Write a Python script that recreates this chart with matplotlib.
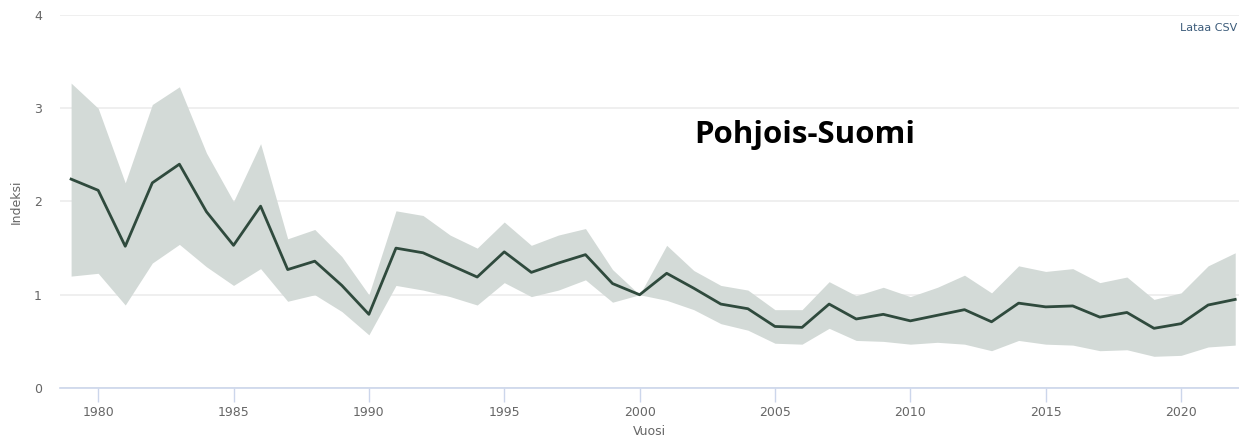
import matplotlib.pyplot as plt

years = list(range(1979, 2023))
index = [2.24, 2.12, 1.52, 2.20, 2.40, 1.89, 1.53, 1.95, 1.27, 1.36,
         1.10, 0.79, 1.50, 1.45, 1.32, 1.19, 1.46, 1.24, 1.34, 1.43,
         1.12, 1.00, 1.23, 1.07, 0.90, 0.85, 0.66, 0.65, 0.90, 0.74,
         0.79, 0.72, 0.78, 0.84, 0.71, 0.91, 0.87, 0.88, 0.76, 0.81,
         0.64, 0.69, 0.89, 0.95]
upper = [3.27, 3.00, 2.20, 3.04, 3.23, 2.52, 2.00, 2.62, 1.60, 1.70,
         1.41, 1.00, 1.90, 1.85, 1.64, 1.50, 1.78, 1.53, 1.64, 1.71,
         1.27, 1.00, 1.53, 1.26, 1.10, 1.05, 0.84, 0.84, 1.14, 0.99,
         1.08, 0.98, 1.08, 1.21, 1.02, 1.31, 1.25, 1.28, 1.13, 1.19,
         0.95, 1.02, 1.31, 1.45]
lower = [1.20, 1.23, 0.89, 1.34, 1.54, 1.30, 1.10, 1.28, 0.93, 1.00,
         0.82, 0.57, 1.10, 1.05, 0.98, 0.89, 1.13, 0.98, 1.05, 1.16,
         0.92, 1.00, 0.94, 0.84, 0.69, 0.62, 0.48, 0.47, 0.64, 0.51,
         0.50, 0.47, 0.49, 0.47, 0.40, 0.51, 0.47, 0.46, 0.40, 0.41,
         0.34, 0.35, 0.44, 0.46]
yticks = [0, 1, 2, 3, 4]
xticks = [1980, 1985, 1990, 1995, 2000, 2005, 2010, 2015, 2020]

fig = plt.figure(figsize=(12.39, 4.38), dpi=100)
ax = fig.add_axes([60/1239, 1 - 388/438, 1179/1239, 373/438])

# luottamusväli + indeksi
ax.fill_between(years, lower, upper, color='#d3dad7', linewidth=0, zorder=2)
ax.plot(years, index, color='#2f4a3d', linewidth=2, zorder=3)

ax.set_xlim(1978.59, 2022.14)
ax.set_ylim(0, 4)
ax.set_yticks(yticks)
ax.set_xticks(xticks)
ax.grid(axis='y', color='#ececec', linewidth=1.2, zorder=1)
for s in ['top', 'right', 'left']:
    ax.spines[s].set_visible(False)
ax.spines['bottom'].set_color('#ccd6eb')
ax.spines['bottom'].set_linewidth(1.2)
ax.tick_params(axis='x', colors='#ccd6eb', length=10, width=1, labelcolor='#666666',
               labelsize=9, pad=3)
ax.tick_params(axis='y', length=0, labelcolor='#666666', labelsize=9, pad=13)

ax.set_xlabel('Vuosi', color='#666666', fontsize=9, labelpad=4)
ax.set_ylabel('Indeksi', color='#666666', fontsize=9, labelpad=8)

fig.text(805/1239, 1 - 135/438, 'Pohjois-Suomi', fontsize=22.5, fontweight='bold',
         family='Open Sans', color='black', ha='center', va='center')
fig.text(1237/1239, 1 - 28/438, 'Lataa CSV', fontsize=8, color='#3b5b7a',
         ha='right', va='center')

fig.savefig('out.png', dpi=100)
